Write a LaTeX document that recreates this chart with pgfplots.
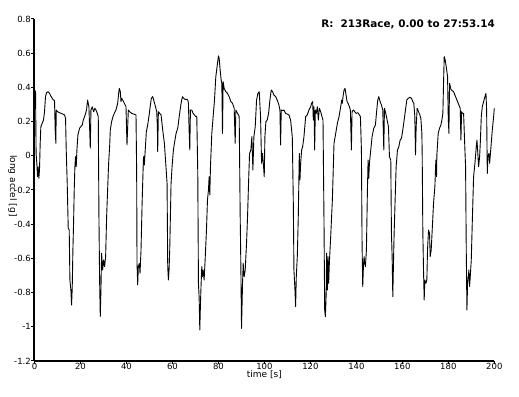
\documentclass[border=0pt]{standalone}
\usepackage{fontspec}
\setmainfont{DejaVu Sans}
\usepackage{graphicx}
\usepackage{pgfplots}
\pgfplotsset{compat=1.18}
\begin{document}
\begin{tikzpicture}
\begin{axis}[
  at={(34.5pt,35pt)}, anchor=south west,
  scale only axis, width=459.8pt, height=342pt,
  xmin=0, xmax=200, ymin=-1.2, ymax=0.8,
  axis x line*=bottom, axis y line*=left,
  axis line style={line width=2pt},
  xtick={0,20,...,200},
  ytick={-1.2,-1,-0.8,-0.6,-0.4,-0.2,0,0.2,0.4,0.6,0.8},
  yticklabels={-1.2,-1,-0.8,-0.6,-0.4,-0.2,0,0.2,0.4,0.6,0.8},
  tick align=outside, major tick length=3pt,
  tick style={black, line width=1pt},
  /pgf/number format/assume math mode=true,
  tick label style={font=\fontsize{8.5}{9}\selectfont},
  yticklabel style={anchor=east, inner sep=0pt, xshift=-0.5pt},
  xticklabel style={anchor=north, inner sep=0pt, yshift=1pt},
  xlabel={time [s]},
  xlabel style={at={(axis description cs:0.5,0)}, anchor=base, yshift=-17pt, font=\fontsize{9}{10}\selectfont},
  ylabel={long accel [g]},
  ylabel style={at={(axis description cs:-0.0478,0.512)}, rotate=180, anchor=center, font=\fontsize{9}{10}\selectfont},
  clip=false,
]
\addplot[black, line width=0.9pt, line join=round] coordinates {
(0.00,0.37) (0.45,0.38) (0.70,0.01) (1.02,-0.044) (1.31,-0.122) (1.60,-0.064) (1.89,-0.132) (2.18,-0.083)
(2.47,0.073) (2.76,0.170) (3.34,0.190) (3.92,0.209) (4.36,0.258) (4.79,0.346) (5.23,0.369) (5.81,0.375)
(6.54,0.365) (7.26,0.346) (7.99,0.330) (8.71,0.322) (9.00,0.151) (9.30,0.073) (9.44,0.268) (10.02,0.258)
(10.89,0.252) (11.62,0.248) (12.35,0.244) (13.07,0.239) (13.51,0.219) (13.80,0.034) (14.23,-0.161) (14.67,-0.424)
(15.10,-0.434) (15.40,-0.726) (15.83,-0.785) (16.12,-0.873) (16.41,-0.775) (16.70,-0.551) (16.99,-0.395) (17.28,-0.200)
(17.57,-0.064) (17.86,-0.005) (18.15,-0.064) (18.45,0.034) (18.88,0.122) (19.61,0.161) (20.33,0.174) (20.77,0.180)
(21.21,0.209) (21.79,0.229) (22.22,0.248) (22.66,0.272) (23.09,0.326) (23.38,0.307) (23.67,0.287) (23.96,0.170)
(24.26,0.044) (24.55,0.268) (25.13,0.287) (25.71,0.258) (26.29,0.278) (26.72,0.268) (27.31,0.248) (27.74,0.229)
(28.03,-0.356) (28.32,-0.726) (28.61,-0.941) (28.90,-0.785) (29.19,-0.570) (29.63,-0.668) (30.06,-0.609) (30.50,-0.648)
(30.94,-0.590) (31.37,-0.356)
(32.24,-0.044) (32.68,0.053) (32.97,0.151) (33.55,0.200) (34.13,0.229) (34.71,0.248) (35.44,0.268) (36.17,0.307)
(36.60,0.365) (36.89,0.394) (37.33,0.375) (37.62,0.317) (37.91,0.336) (38.35,0.326) (39.07,0.307) (39.80,0.287)
(40.23,0.063) (40.81,0.268) (41.39,0.258) (42.27,0.248) (43.14,0.244) (44.15,0.239) (44.44,-0.103) (44.59,-0.629)
(44.88,-0.755) (45.17,-0.648) (45.61,-0.629) (45.90,-0.687) (46.33,-0.551) (46.77,-0.297) (47.35,-0.025) (47.49,-0.005)
(47.78,-0.054) (48.07,0.014) (48.65,0.141) (49.24,0.180) (49.96,0.248) (50.40,0.297) (50.83,0.336) (51.42,0.346)
(51.85,0.326) (52.43,0.297) (53.16,0.258) (53.45,0.170) (53.59,0.024) (53.88,0.258) (54.47,0.248) (55.05,0.239)
(55.77,0.151) (56.50,0.073) (57.23,-0.073) (57.66,-0.161) (57.95,-0.648) (58.24,-0.726) (58.53,-0.668) (58.82,-0.551)
(59.11,-0.356) (59.40,-0.161) (59.84,-0.064) (60.42,0.034) (60.86,0.073) (61.58,0.131) (62.31,0.161) (63.04,0.239)
(63.76,0.307) (64.34,0.346) (64.92,0.336) (65.50,0.330)
(66.23,0.330) (66.67,0.326) (66.96,0.307) (67.25,0.151) (67.54,0.034) (67.83,0.268) (68.41,0.268) (68.99,0.248)
(69.57,0.239) (70.15,0.229) (70.59,0.229) (71.02,-0.103) (71.31,-0.746) (71.60,-0.824) (71.90,-1.018) (72.19,-0.863)
(72.48,-0.746) (72.77,-0.648) (73.06,-0.707) (73.35,-0.668) (73.78,-0.726) (74.22,-0.609) (74.80,-0.434) (75.24,-0.258)
(75.67,-0.200) (75.96,-0.122) (76.25,-0.229) (76.54,-0.064) (77.12,0.131) (77.70,0.229) (78.29,0.326) (78.87,0.463)
(79.59,0.541) (80.03,0.584) (80.32,0.570) (80.75,0.502) (81.19,0.443) (81.48,0.424) (81.77,0.131) (82.06,0.433)
(82.50,0.394) (83.22,0.375) (83.95,0.365) (84.68,0.346) (85.40,0.317) (86.13,0.307) (86.86,0.278) (87.29,0.073)
(87.58,0.268) (88.31,0.248) (88.74,0.239) (89.03,0.229) (89.47,-0.356) (89.76,-0.648) (90.05,-1.009) (90.49,-0.746)
(90.78,-0.629) (91.21,-0.707) (91.65,-0.668) (92.23,-0.512) (92.67,-0.356) (93.10,-0.161) (93.54,0.014) (94.12,0.034)
(94.55,0.112) (94.99,-0.083) (95.43,0.112) (96.01,0.170) (96.59,0.326) (97.17,0.365) (97.75,0.375) (98.33,0.229)
(98.77,-0.044) (99.20,0.014) (99.64,-0.064)
(99.93,-0.122) (100.22,0.112) (100.65,0.200) (101.23,0.209) (101.82,0.248) (102.40,0.326) (102.98,0.385) (103.56,0.375)
(104.14,0.355) (104.87,0.346) (105.59,0.326) (106.32,0.297) (106.75,0.268) (107.04,0.063) (107.33,0.268) (107.92,0.264)
(108.50,0.268) (109.22,0.248) (109.95,0.244) (110.68,0.239) (111.40,0.209) (112.13,0.112) (112.56,-0.259) (112.85,-0.668)
(113.29,-0.785) (113.58,-0.882) (113.87,-0.707) (114.31,-0.590) (114.74,-0.356) (115.18,0.014) (115.47,-0.141) (115.76,-0.044)
(116.20,0.034) (116.63,0.053) (117.21,0.112) (117.94,0.229) (118.66,0.239) (119.39,0.268) (120.12,0.287) (120.55,0.307)
(120.99,0.317) (121.28,0.209) (121.57,0.287) (121.86,0.034) (122.15,0.268) (122.59,0.248) (123.02,0.287) (123.46,0.209)
(123.89,0.278) (124.47,0.258) (125.05,0.229) (125.49,0.209) (125.93,-0.395) (126.22,-0.902) (126.51,-0.941) (126.80,-0.843)
(127.09,-0.570) (127.38,-0.785) (127.67,-0.590) (127.96,-0.746) (128.25,-0.629) (128.83,-0.473) (129.56,-0.259) (130.28,0.073)
(131.01,0.131) (131.74,0.190) (132.46,0.229) (133.19,0.287) (133.62,0.326)
(133.91,0.307) (134.20,0.346) (134.64,0.385) (135.08,0.394) (135.51,0.355) (135.95,0.317) (136.38,0.307) (136.97,0.287)
(137.40,0.268) (137.84,0.034) (138.13,0.258) (138.71,0.268) (139.29,0.258) (139.87,0.248) (140.60,0.252) (141.33,0.239)
(141.76,0.229) (142.20,0.034) (142.48,-0.512) (142.77,-0.765) (143.07,-0.648) (143.36,-0.590) (143.65,-0.629) (143.94,-0.648)
(144.37,-0.551) (144.81,-0.200) (145.10,-0.025) (145.39,-0.132) (145.68,-0.044) (146.26,0.034) (146.84,0.112) (147.57,0.161)
(148.29,0.180) (148.87,0.268) (149.31,0.326) (149.75,0.346) (150.33,0.317) (150.91,0.297) (151.49,0.268) (151.93,0.034)
(152.22,0.278) (152.80,0.248) (153.38,0.209) (153.96,0.170) (154.39,-0.005) (154.97,-0.025) (155.26,-0.453) (155.56,-0.590)
(155.85,-0.824) (156.14,-0.629) (156.43,-0.453) (156.86,-0.259) (157.30,-0.064) (157.88,0.034) (158.46,0.053) (159.04,0.092)
(159.62,0.102) (160.20,0.151) (160.78,0.209) (161.36,0.268) (161.94,0.326) (162.53,0.336) (163.25,0.342) (163.98,0.336)
(164.56,0.317) (164.99,0.307) (165.43,0.229) (165.72,0.005) (166.01,0.170) (166.45,0.278) (167.03,0.258) (167.61,0.239)
(168.05,0.219) (168.49,0.131) (168.63,0.014) (168.92,-0.453) (169.21,-0.668) (169.50,-0.843) (169.79,-0.726) (170.23,-0.746)
(170.66,-0.726) (170.95,-0.551) (171.39,-0.434) (171.83,-0.453) (172.11,-0.590) (172.55,-0.551) (172.99,-0.434) (173.57,-0.278)
(174.15,-0.180) (174.58,-0.025) (174.87,-0.122) (175.02,0.005) (175.60,0.131) (176.18,0.161) (176.76,0.180) (177.20,0.209)
(177.63,0.248) (177.92,0.424) (178.21,0.580) (178.65,0.560) (179.09,0.521) (179.67,0.463) (179.96,0.229) (180.25,0.131)
(180.54,0.424) (181.12,0.389) (181.70,0.381) (182.28,0.375) (182.86,0.355) (183.44,0.336) (184.02,0.317) (184.60,0.297)
(185.19,0.278) (185.48,0.092) (185.77,0.258) (186.20,0.248) (186.64,0.248) (187.22,0.034) (187.51,-0.064) (187.80,-0.551)
(188.09,-0.902) (188.38,-0.746) (188.67,-0.707) (188.96,-0.668) (189.25,-0.765) (189.54,-0.707) (189.98,-0.609) (190.41,-0.395)
(190.70,-0.259) (190.99,-0.122) (191.57,-0.044) (192.16,0.053) (192.45,0.092) (192.74,0.034) (193.17,-0.064) (193.61,-0.005)
(193.90,0.073) (194.34,0.229) (194.77,0.287) (195.35,0.317) (195.93,0.346) (196.37,0.365) (196.66,0.268) (196.95,-0.103)
(197.24,-0.005) (197.68,0.014) (197.97,-0.044) (198.55,0.053) (199.13,0.151) (199.71,0.229) (200.00,0.278)
};
\end{axis}
\node[anchor=base east, font=\bfseries\fontsize{10.4}{12}\selectfont, inner sep=0pt] at (495pt,368pt) {R:\ \ 213Race, 0.00 to 27:53.14};
\pgfresetboundingbox
\path[use as bounding box] (0,0) rectangle (519pt,396pt);
\end{tikzpicture}
\end{document}
